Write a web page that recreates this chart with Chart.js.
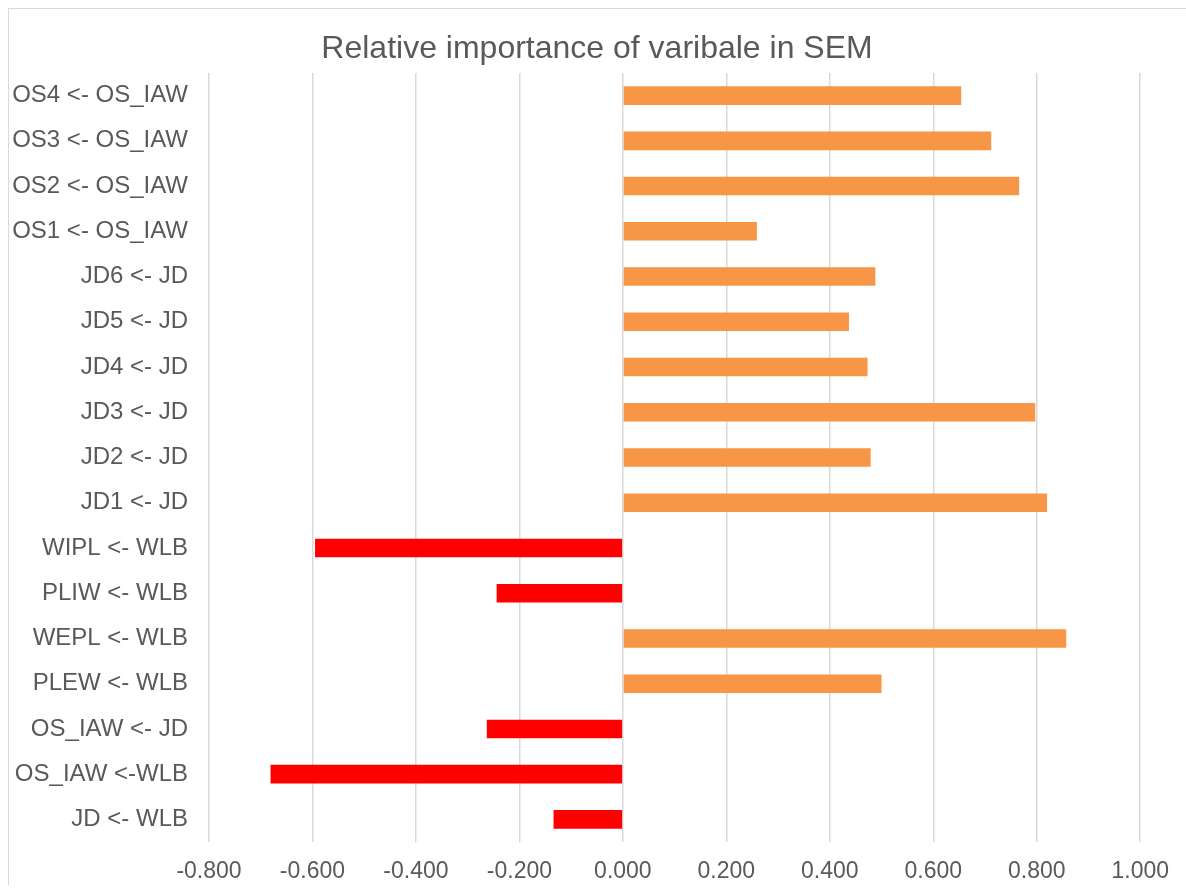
<!DOCTYPE html>
<html lang="en">
<head>
  <meta charset="UTF-8">
  <title>Relative importance of varibale in SEM</title>
  <script src="https://cdn.jsdelivr.net/npm/chart.js"></script>
  <style>
    body, html {
      margin: 0;
      padding: 0;
      background: #fff;
      overflow: hidden;
    }
    #marco {
      position: absolute;
      left: 8px;
      top: 8px;
      width: 1180px;
      height: 877px;
      border-left: 1px solid #d9d9d9;
      border-top: 1px solid #d9d9d9;
      box-sizing: border-box;
    }
  </style>
</head>
<body>
  <div id="marco"><canvas id="grafico" width="1176" height="876"></canvas></div>
  <script>
    const etiquetas = [
      "OS4 <- OS_IAW", "OS3 <- OS_IAW", "OS2 <- OS_IAW", "OS1 <- OS_IAW",
      "JD6 <- JD", "JD5 <- JD", "JD4 <- JD", "JD3 <- JD", "JD2 <- JD", "JD1 <- JD",
      "WIPL <- WLB", "PLIW <- WLB", "WEPL <- WLB", "PLEW <- WLB",
      "OS_IAW <- JD", "OS_IAW <-WLB", "JD <- WLB"
    ];
    const valores = [
      0.654, 0.712, 0.766, 0.259,
      0.488, 0.437, 0.473, 0.797, 0.479, 0.820,
      -0.595, -0.244, 0.857, 0.500,
      -0.263, -0.681, -0.134
    ];
    const colorPositivo = "#F79646";
    const colorNegativo = "#FF0000";
    const gris = "#595959";
    const fuente = "'Liberation Sans', Arial, sans-serif";

    const ctx = document.getElementById("grafico").getContext("2d");

    new Chart(ctx, {
      type: "bar",
      data: {
        labels: etiquetas,
        datasets: [{
          data: valores,
          backgroundColor: valores.map(v => v < 0 ? colorNegativo : colorPositivo),
          barPercentage: 0.41,
          categoryPercentage: 1
        }]
      },
      options: {
        indexAxis: "y",
        responsive: false,
        animation: false,
        layout: { padding: 0 },
        plugins: {
          legend: { display: false },
          tooltip: { enabled: false },
          title: {
            display: true,
            text: "Relative importance of varibale in SEM",
            color: gris,
            font: { family: fuente, size: 32, weight: "normal" },
            padding: { top: 21, bottom: 4.6 }
          }
        },
        scales: {
          x: {
            min: -0.8,
            max: 1.0,
            ticks: {
              stepSize: 0.2,
              color: gris,
              padding: 16,
              font: { family: fuente, size: 23 },
              callback: v => (Math.abs(v) < 1e-9 ? 0 : v).toFixed(3)
            },
            grid: { color: "#d9d9d9", lineWidth: 1.5, drawTicks: false },
            border: { display: false },
            afterFit: escala => { escala.height = 43; }
          },
          y: {
            ticks: {
              color: gris,
              padding: 21,
              font: { family: fuente, size: 24 }
            },
            grid: { display: false, drawTicks: false },
            border: { display: false },
            afterFit: escala => { escala.width = 200; }
          },
          // eje vacío a la derecha, solo reserva el margen
          derecha: {
            type: "linear",
            axis: "y",
            position: "right",
            ticks: { display: false },
            grid: { display: false, drawTicks: false },
            border: { display: false },
            afterFit: escala => { escala.width = 43; }
          }
        }
      }
    });
  </script>
</body>
</html>
